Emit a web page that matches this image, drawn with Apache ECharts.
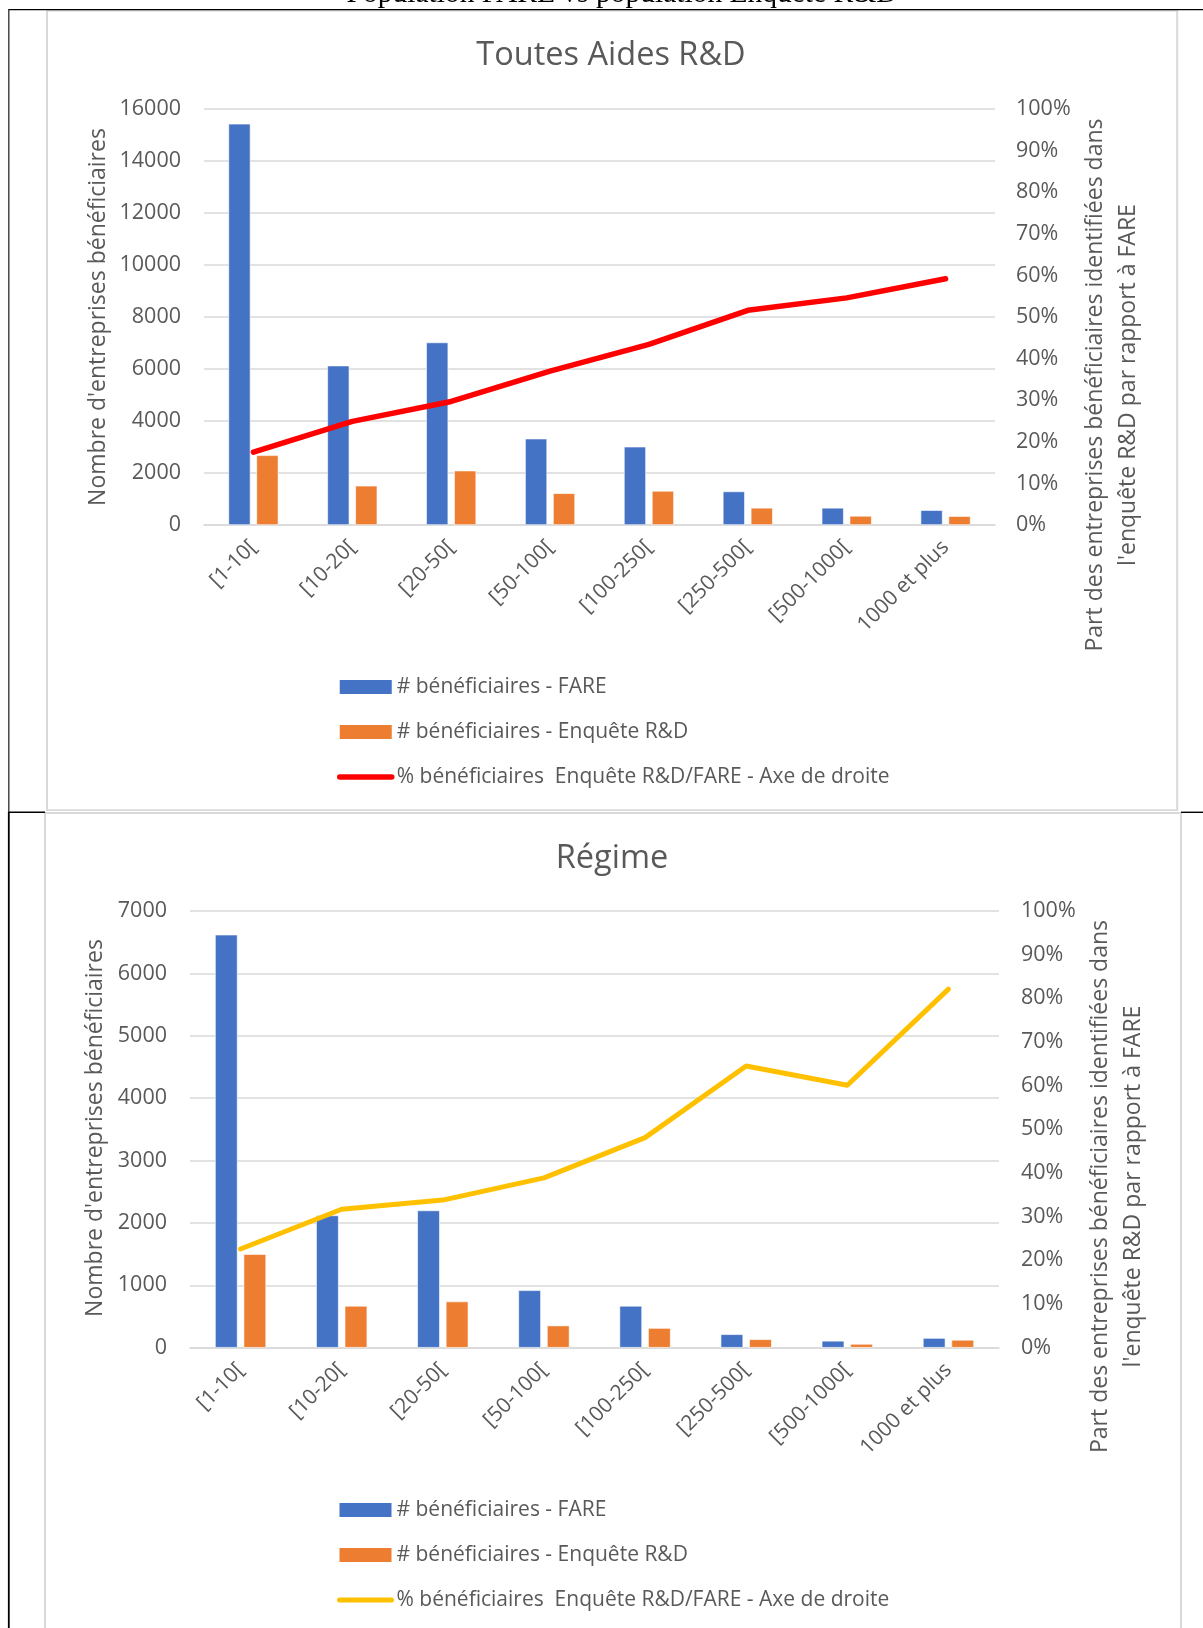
<!DOCTYPE html>
<html>
<head>
<meta charset="utf-8">
<script src="https://cdn.jsdelivr.net/npm/echarts@6/dist/echarts.min.js"></script>
<style>
  html, body { margin: 0; padding: 0; background: #fff; }
  #page { position: relative; width: 1203px; height: 1628px; overflow: hidden; }
  #c1 { position: absolute; left: 0; top: 0; width: 1203px; height: 811px; }
  #c2 { position: absolute; left: 0; top: 811px; width: 1203px; height: 817px; }
</style>
</head>
<body>
<div id="page">
  <div id="c1"></div>
  <div id="c2"></div>
</div>
<script>
// Size classes of firms (number of employees)
const categories = ['[1-10[', '[10-20[', '[20-50[', '[50-100[', '[100-250[', '[250-500[', '[500-1000[', '1000 et plus'];

// Toutes Aides R&D
const toutesFare = [15430, 6130, 7020, 3320, 3010, 1290, 660, 570];
const toutesEnquete = [2680, 1510, 2090, 1220, 1310, 660, 350, 340];
const toutesPart = [0.175, 0.249, 0.297, 0.37, 0.434, 0.516, 0.546, 0.592];

// Régime
const regimeFare = [6620, 2120, 2200, 920, 670, 215, 110, 155];
const regimeEnquete = [1500, 670, 740, 355, 315, 135, 60, 125];
const regimePart = [0.226, 0.317, 0.338, 0.389, 0.481, 0.645, 0.601, 0.821];

const pageTitle = 'Population FARE vs population Enquête R&D';
const nameFare = '# bénéficiaires - FARE';
const nameEnquete = '# bénéficiaires - Enquête R&D';
const namePart = '% bénéficiaires  Enquête R&D/FARE - Axe de droite';
const leftAxisTitle = "Nombre d'entreprises bénéficiaires";
const rightAxisTitle = "Part des entreprises bénéficiaires identifiées dans\nl'enquête R&D par rapport à FARE";

const FONT = '"Open Sans", "Noto Sans", sans-serif';
const GREY = '#595959';
const GRID = '#D9D9D9';

function buildOption(cfg) {
  const graphic = [
    // outer frame of the chart area
    {
      type: 'rect', z: 0, silent: true,
      shape: cfg.frame,
      style: { fill: null, stroke: GRID, lineWidth: 2 }
    },
    {
      type: 'text', z: 10, silent: true,
      x: cfg.titlePos[0], y: cfg.titlePos[1],
      style: { text: cfg.title, font: '32.5px ' + FONT, fill: GREY, align: 'center', verticalAlign: 'middle' }
    },
    {
      type: 'text', z: 10, silent: true,
      x: cfg.leftTitlePos[0], y: cfg.leftTitlePos[1], rotation: Math.PI / 2,
      style: { text: leftAxisTitle, font: '23px ' + FONT, fill: GREY, align: 'center', verticalAlign: 'middle' }
    },
    {
      type: 'text', z: 10, silent: true,
      x: cfg.rightTitlePos[0], y: cfg.rightTitlePos[1], rotation: Math.PI / 2,
      style: { text: rightAxisTitle, font: '23px ' + FONT, fill: GREY, align: 'center', verticalAlign: 'middle', lineHeight: 33 }
    }
  ].concat(cfg.extraGraphic || []);

  return {
    animation: false,
    backgroundColor: 'transparent',
    textStyle: { fontFamily: FONT },
    graphic: graphic,
    grid: cfg.grid,
    legend: {
      orient: 'vertical',
      left: 337,
      top: cfg.legendTop,
      padding: 0,
      itemWidth: 52,
      itemHeight: 14,
      itemGap: 23,
      itemStyle: { borderWidth: 0 },
      lineStyle: { width: cfg.lineWidth, cap: 'round' },
      textStyle: { fontFamily: FONT, fontSize: 21, color: GREY, lineHeight: 22 },
      data: [
        { name: nameFare, icon: 'rect' },
        { name: nameEnquete, icon: 'rect' },
        { name: namePart, itemStyle: { color: 'rgba(0,0,0,0)', borderColor: 'rgba(0,0,0,0)', borderWidth: 0 } }
      ]
    },
    xAxis: {
      type: 'category',
      data: categories,
      axisTick: { show: false },
      axisLine: { lineStyle: { color: GRID, width: 1.5 } },
      axisLabel: { rotate: 45, margin: 19, color: GREY, fontSize: 21, fontFamily: FONT, interval: 0 }
    },
    yAxis: [
      {
        type: 'value', min: 0, max: cfg.leftMax, interval: cfg.leftInterval,
        axisLine: { show: false }, axisTick: { show: false },
        splitLine: { lineStyle: { color: GRID, width: 1.5 } },
        axisLabel: { margin: 23, color: GREY, fontSize: 21.5, fontFamily: FONT, formatter: v => String(v) }
      },
      {
        type: 'value', position: 'right', min: 0, max: 1, interval: 0.1,
        axisLine: { show: false }, axisTick: { show: false },
        splitLine: { show: false },
        axisLabel: {
          margin: cfg.rightMargin, color: GREY, fontSize: 21.5, fontFamily: FONT,
          formatter: v => Math.round(v * 100) + '%'
        }
      }
    ],
    series: [
      {
        name: nameFare, type: 'bar', data: cfg.fare,
        barWidth: cfg.barWidth, barGap: cfg.barGap,
        itemStyle: { color: '#4472C4', borderColor: '#ffffff', borderWidth: 0.6 }
      },
      {
        name: nameEnquete, type: 'bar', data: cfg.enquete,
        barWidth: cfg.barWidth, barGap: cfg.barGap,
        itemStyle: { color: '#ED7D31', borderColor: '#ffffff', borderWidth: 0.6 }
      },
      {
        name: namePart, type: 'line', yAxisIndex: 1, data: cfg.part,
        symbol: 'none', z: 5,
        lineStyle: { color: cfg.lineColor, width: cfg.lineWidth, cap: 'round', join: 'round' },
        itemStyle: { color: cfg.lineColor }
      }
    ]
  };
}

// First chart: also carries the page heading and the table borders of the upper cell
const chart1 = echarts.init(document.getElementById('c1'), null, { renderer: 'canvas' });
chart1.setOption(buildOption({
  title: 'Toutes Aides R&D',
  titlePos: [611, 56],
  leftTitlePos: [98, 317],
  rightTitlePos: [1111.5, 385],
  frame: { x: 47, y: 10.5, width: 1130.2, height: 799.8 },
  grid: { left: 204, top: 109, width: 791, height: 416, containLabel: false },
  legendTop: 676,
  leftMax: 16000, leftInterval: 2000,
  rightMargin: 21,
  fare: toutesFare, enquete: toutesEnquete, part: toutesPart,
  barWidth: 22, barGap: '27%',
  lineColor: '#FF0000', lineWidth: 5.5,
  extraGraphic: [
    {
      type: 'text', z: 20, silent: true, x: 622, y: -6,
      style: { text: pageTitle, font: '29.5px "Liberation Serif", "Times New Roman", serif', fill: '#000', align: 'center', verticalAlign: 'middle' }
    },
    { type: 'line', z: 30, silent: true, shape: { x1: 8, y1: 9.6, x2: 1203, y2: 9.6 }, style: { stroke: '#000', lineWidth: 1.4 } },
    { type: 'line', z: 30, silent: true, shape: { x1: 8.8, y1: 9, x2: 8.8, y2: 811 }, style: { stroke: '#3a3a3a', lineWidth: 1.4 } }
  ]
}));

// Second chart: lower cell of the table
const chart2 = echarts.init(document.getElementById('c2'), null, { renderer: 'canvas' });
chart2.setOption(buildOption({
  title: 'Régime',
  titlePos: [612, 48],
  leftTitlePos: [95.5, 317],
  rightTitlePos: [1116.5, 375.5],
  frame: { x: 45, y: 2, width: 1136, height: 900 },
  grid: { left: 190, top: 100, width: 809, height: 436.7, containLabel: false },
  legendTop: 688,
  leftMax: 7000, leftInterval: 1000,
  rightMargin: 22,
  fare: regimeFare, enquete: regimeEnquete, part: regimePart,
  barWidth: 22.5, barGap: '27%',
  lineColor: '#FFC000', lineWidth: 5,
  extraGraphic: [
    { type: 'line', z: 30, silent: true, shape: { x1: 8, y1: 1.3, x2: 45, y2: 1.3 }, style: { stroke: '#000', lineWidth: 1.4 } },
    { type: 'line', z: 30, silent: true, shape: { x1: 1181, y1: 1.3, x2: 1203, y2: 1.3 }, style: { stroke: '#000', lineWidth: 1.4 } },
    { type: 'line', z: 30, silent: true, shape: { x1: 8.8, y1: 0.6, x2: 8.8, y2: 817 }, style: { stroke: '#000', lineWidth: 1.8 } }
  ]
}));
</script>
</body>
</html>
